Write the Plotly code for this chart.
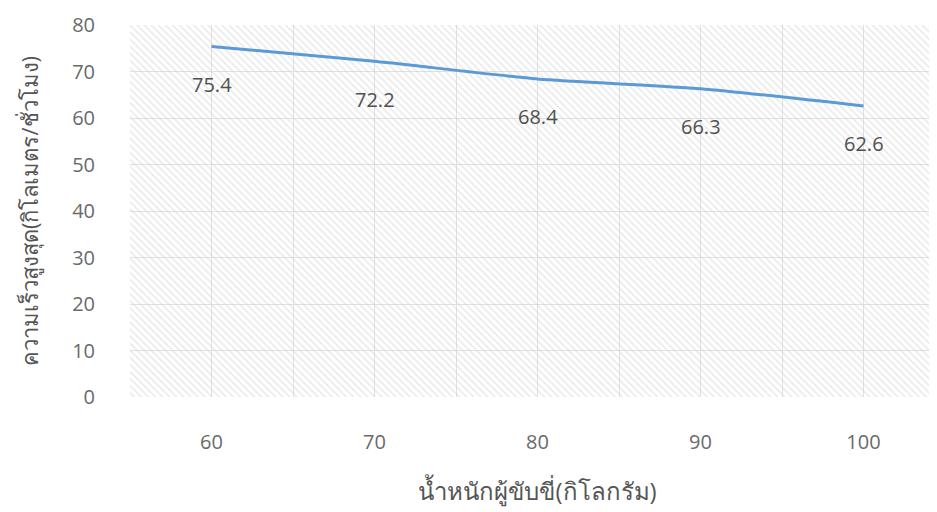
import plotly.graph_objects as go

weights = [60, 70, 80, 90, 100]
speeds = [75.4, 72.2, 68.4, 66.3, 62.6]
x_title = "น้ำหนักผู้ขับขี่(กิโลกรัม)"
y_title = "ความเร็วสูงสุด(กิโลเมตร/ชั่วโมง)"

fig = go.Figure()

# hatched plot-area background on the base (hidden) axes 0..1, transparent gaps
fig.add_trace(go.Scatter(
    x=[0, 1, 1, 0, 0], y=[0, 0, 1, 1, 0], xaxis="x", yaxis="y",
    mode="none", fill="toself", fillcolor="rgba(0,0,0,0)",
    fillpattern=dict(shape="\\", fgcolor="#d3d3d3", bgcolor="rgba(0,0,0,0)", size=5, solidity=0.3),
    hoverinfo="skip", showlegend=False,
))

fig.add_trace(go.Scatter(
    x=weights, y=speeds, mode="lines", xaxis="x2", yaxis="y2",
    line=dict(color="#5B9BD5", width=3, shape="spline", smoothing=0.6),
    showlegend=False,
))

for xv, yv in zip(weights, speeds):
    fig.add_annotation(x=xv, y=yv, xref="x2", yref="y2", text=f"{yv}", showarrow=False, yshift=-38,
                       font=dict(size=20, color="#505050", family="Open Sans"))

fig.update_layout(
    width=937, height=512,
    margin=dict(l=122, r=0, t=17, b=123),
    paper_bgcolor="white", plot_bgcolor="white",
    font=dict(family="Open Sans", color="#595959"),
    xaxis=dict(range=[0, 1], visible=False, fixedrange=True, automargin=False),
    yaxis=dict(range=[0, 1], visible=False, fixedrange=True, automargin=False),
    xaxis2=dict(overlaying="x", range=[55, 105], tickvals=weights, showgrid=True, gridcolor="#e0e0e0",
                zeroline=False, showline=False, ticks="", ticklabelstandoff=31, automargin=False,
                tickfont=dict(size=20, color="#6a6a6a"),
                minor=dict(dtick=5, tick0=55, showgrid=True, gridcolor="#e0e0e0"),
                title=dict(text=x_title, font=dict(size=24, color="#555555"), standoff=29)),
    yaxis2=dict(overlaying="y", range=[0, 80], dtick=10, showgrid=True, gridcolor="#e0e0e0",
                zeroline=False, showline=False, ticks="", ticklabelstandoff=34, automargin=False,
                tickfont=dict(size=20, color="#6a6a6a"),
                title=dict(text=y_title, font=dict(size=22, color="#555555"), standoff=27)),
)

fig.write_html("out.html", post_script="document.body.style.overflow='hidden';")
